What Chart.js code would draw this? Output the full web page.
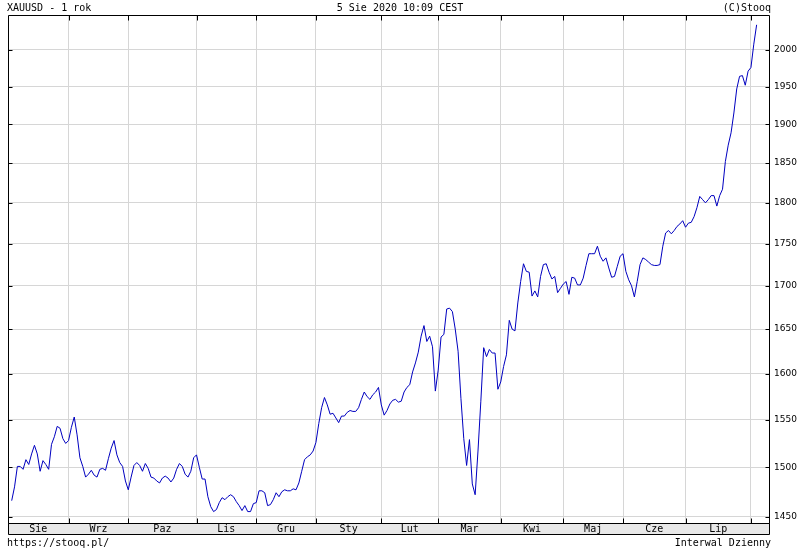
<!DOCTYPE html>
<html>
<head>
<meta charset="utf-8">
<script src="https://cdn.jsdelivr.net/npm/chart.js@4"></script>
<style>
html,body{margin:0;padding:0;background:#fff;}
#wrap{width:800px;height:550px;}
</style>
</head>
<body>
<div id="wrap"><canvas id="c" width="800" height="550"></canvas></div>
<script>
// ---- data (XAUUSD daily close, trading-day index 0 = 5 Aug 2019) ----
const prices = [
1466,1480,1501,1501,1498,1508,1503,1514,1523,1514,
1496,1507,1503,1498,1524,1532,1543,1541,1530,1525,
1528,1542,1553,1534,1510,1501,1490,1493,1497,1492,
1490,1498,1499,1497,1509,1520,1528,1513,1505,1501,
1486,1477,1490,1502,1505,1502,1496,1504,1499,1490,
1489,1486,1484,1489,1491,1489,1485,1489,1498,1504,
1501,1493,1490,1496,1510,1513,1500,1488,1488,1470,
1460,1455,1457,1464,1469,1467,1470,1472,1470,1465,
1461,1456,1461,1455,1455,1463,1464,1476,1476,1474,
1461,1462,1467,1474,1470,1475,1477,1476,1476,1478,
1477,1484,1496,1508,1511,1513,1517,1526,1546,1563,
1574,1566,1556,1557,1552,1547,1554,1554,1558,1560,
1559,1559,1563,1572,1580,1575,1572,1577,1580,1585,
1566,1555,1560,1567,1571,1572,1569,1570,1580,1585,
1588,1602,1612,1624,1642,1654,1636,1642,1630,1581,
1604,1641,1644,1673,1674,1670,1650,1625,1573,1530,
1502,1529,1483,1472,1517,1570,1629,1619,1627,1623,
1623,1583,1591,1608,1621,1660,1650,1648,1680,1705,
1726,1717,1716,1688,1694,1687,1711,1725,1726,1716,
1708,1711,1692,1697,1702,1705,1690,1710,1709,1701,
1701,1709,1724,1738,1738,1738,1747,1735,1729,1733,
1721,1710,1711,1723,1735,1738,1717,1707,1700,1687,
1705,1725,1733,1731,1728,1725,1724,1724,1725,1747,
1763,1766,1762,1766,1771,1774,1778,1770,1775,1776,
1783,1794,1808,1804,1800,1804,1809,1809,1796,1809,
1817,1852,1873,1889,1915,1947,1964,1965,1952,1971,
1976,2008,2035
];
// trading-day index where each month begins (Sep 2019 ... Aug 2020)
const monthStarts = [20, 41, 65, 86, 107, 130, 150, 172, 194, 215, 237, 260];
// month names written in each month segment (Aug 2019 ... Jul 2020)
const monthNames = ['Sie','Wrz','Paz','Lis','Gru','Sty','Lut','Mar','Kwi','Maj','Cze','Lip'];
const yTicks = [1450,1500,1550,1600,1650,1700,1750,1800,1850,1900,1950,2000];
const xMin = -1.3, xMax = 266.7;
const yMin = 1443.6, yMax = 2048.8;
const headerLeft = 'XAUUSD - 1 rok';
const headerCenter = '5 Sie 2020 10:09 CEST';
const headerRight = '(C)Stooq';
const footerLeft = 'https://stooq.pl/';
const footerRight = 'Interwal Dzienny';

// label positions: middle of each month segment
const bounds = [xMin].concat(monthStarts);
const labelPos = monthNames.map((n, i) => (bounds[i] + bounds[i + 1]) / 2);

const MONO = '"DejaVu Sans Mono", "Liberation Mono", monospace';
const BAND_H = 11;

const framePlugin = {
  id: 'frame',
  beforeDraw(chart) {
    const { ctx, chartArea: a } = chart;
    ctx.save();
    ctx.fillStyle = '#ffffff';
    ctx.fillRect(0, 0, chart.width, chart.height);
    ctx.fillStyle = '#e8e8e8';
    ctx.fillRect(a.left, a.bottom, a.right - a.left, BAND_H);
    ctx.restore();
  },
  afterDraw(chart) {
    const { ctx, chartArea: a, scales } = chart;
    ctx.save();
    ctx.strokeStyle = '#000';
    ctx.lineWidth = 1;
    const L = Math.round(a.left) + 0.5, R = Math.round(a.right) - 0.5;
    const T = Math.round(a.top) + 0.5, B = Math.round(a.bottom) + 0.5;
    ctx.beginPath();
    ctx.rect(L, T, R - L, B - T);
    ctx.rect(L, B, R - L, BAND_H);
    // y tick marks (inside, left and right)
    yTicks.forEach(v => {
      const y = Math.round(scales.y.getPixelForValue(v)) + 0.5;
      ctx.moveTo(L, y); ctx.lineTo(L + 4, y);
      ctx.moveTo(R, y); ctx.lineTo(R - 4, y);
    });
    // x tick marks (inside, top and bottom)
    monthStarts.forEach(v => {
      const x = Math.round(scales.x.getPixelForValue(v)) + 0.5;
      ctx.moveTo(x, T); ctx.lineTo(x, T + 5);
      ctx.moveTo(x, B); ctx.lineTo(x, B - 5);
    });
    ctx.stroke();
    // header & footer texts
    ctx.fillStyle = '#000';
    ctx.font = '10px ' + MONO;
    ctx.textBaseline = 'middle';
    ctx.textAlign = 'left';
    ctx.fillText(headerLeft, 7, 8);
    ctx.fillText(footerLeft, 7, 543);
    ctx.textAlign = 'center';
    ctx.fillText(headerCenter, 400, 8);
    ctx.textAlign = 'right';
    ctx.fillText(headerRight, 771, 8);
    ctx.fillText(footerRight, 771, 543);
    ctx.restore();
  }
};

new Chart(document.getElementById('c'), {
  type: 'line',
  data: {
    datasets: [{
      data: prices.map((v, i) => ({ x: i, y: v })),
      borderColor: '#0000c0',
      borderWidth: 1,
      pointRadius: 0,
      tension: 0,
      fill: false
    }]
  },
  options: {
    responsive: false,
    devicePixelRatio: 1,
    animation: false,
    events: [],
    layout: { padding: { left: 8, top: 15, right: 0, bottom: 0 } },
    plugins: { legend: { display: false }, tooltip: { enabled: false }, title: { display: false } },
    scales: {
      x: {
        type: 'linear', position: 'bottom', min: xMin, max: xMax,
        afterBuildTicks: s => { s.ticks = monthStarts.map(v => ({ value: v })); },
        afterFit: s => { s.height = 0; },
        ticks: { display: false },
        grid: { color: '#d6d6d6', lineWidth: 1, drawTicks: false },
        border: { display: false }
      },
      x2: {
        type: 'linear', position: 'bottom', min: xMin, max: xMax,
        afterBuildTicks: s => { s.ticks = labelPos.map(v => ({ value: v })); },
        afterFit: s => { s.height = 27; },
        ticks: {
          autoSkip: false, maxRotation: 0, minRotation: 0, padding: 0,
          color: '#000', font: { family: MONO, size: 10 },
          callback: (v, i) => monthNames[i]
        },
        grid: { display: false, drawTicks: false },
        border: { display: false }
      },
      y: {
        type: 'logarithmic', position: 'right', min: yMin, max: yMax,
        afterBuildTicks: s => { s.ticks = yTicks.map(v => ({ value: v })); },
        afterFit: s => { s.width = 30; },
        ticks: {
          autoSkip: false, padding: 4, color: '#000',
          font: { family: '"DejaVu Sans", Verdana, sans-serif', size: 9 },
          callback: v => String(v)
        },
        grid: { color: '#d6d6d6', lineWidth: 1, drawTicks: false },
        border: { display: false }
      }
    }
  },
  plugins: [framePlugin]
});
</script>
</body>
</html>
